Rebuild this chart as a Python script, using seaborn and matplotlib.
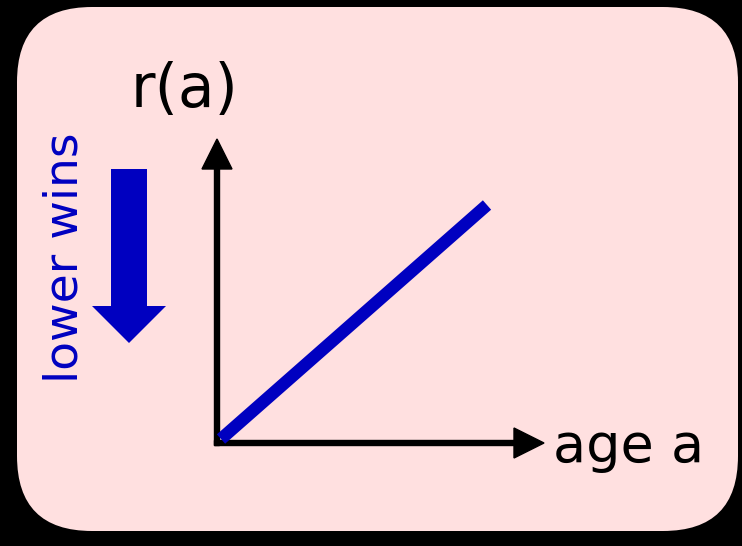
import matplotlib
matplotlib.use("Agg")
import matplotlib.pyplot as plt
import seaborn as sns
from matplotlib.patches import FancyBboxPatch, FancyArrow

# schematic: r(a) grows linearly with age
age = [0.0, 1.0]
r_of_a = [0.0, 1.0]

x_label = "age a"
y_label = "r(a)"
side_note = "lower wins"

PINK = "#FFE0E0"
BLUE = "#0000C0"
W, H = 742, 546


def draw():
    sns.set_style("white")
    plt.rcParams['font.family'] = ['DejaVu Sans']

    fig = plt.figure(figsize=(W / 100, H / 100), dpi=100, facecolor="black")

    # background layer in pixel units (for the rounded card, arrows, text)
    bg = fig.add_axes([0, 0, 1, 1])
    bg.set_xlim(0, W)
    bg.set_ylim(H, 0)
    bg.axis("off")
    bg.add_patch(FancyBboxPatch((17, 7), 721, 524,
                                boxstyle="round,pad=0,rounding_size=75",
                                fc=PINK, ec="none"))

    # axis arrows
    bg.add_patch(FancyArrow(214.5, 443, 329.5, 0, width=5, head_width=30,
                            head_length=30, length_includes_head=True,
                            color="black"))
    bg.add_patch(FancyArrow(217, 445.5, 0, -306.5, width=5, head_width=30,
                            head_length=30, length_includes_head=True,
                            color="black"))

    # "lower wins" arrow
    bg.add_patch(FancyArrow(129, 169, 0, 174, width=36, head_width=74,
                            head_length=37, length_includes_head=True,
                            color=BLUE, lw=0))

    bg.text(185, 107, y_label, fontsize=43, ha="center", va="baseline",
            color="black")
    bg.text(553, 462, x_label, fontsize=39, ha="left", va="baseline",
            color="black")
    bg.text(78, 258, side_note, fontsize=34, rotation=90,
            rotation_mode="anchor", ha="center", va="baseline", color=BLUE)

    # data layer
    ax = fig.add_axes([221 / W, (H - 439) / H, (487 - 221) / W, (439 - 205) / H])
    ax.patch.set_alpha(0)
    sns.lineplot(x=age, y=r_of_a, ax=ax, color=BLUE, linewidth=9,
                 solid_capstyle="butt", clip_on=False)
    ax.set_xlim(0, 1)
    ax.set_ylim(0, 1)
    ax.axis("off")

    fig.savefig("out.png", dpi=100, facecolor="black")


if __name__ == "__main__":
    draw()
